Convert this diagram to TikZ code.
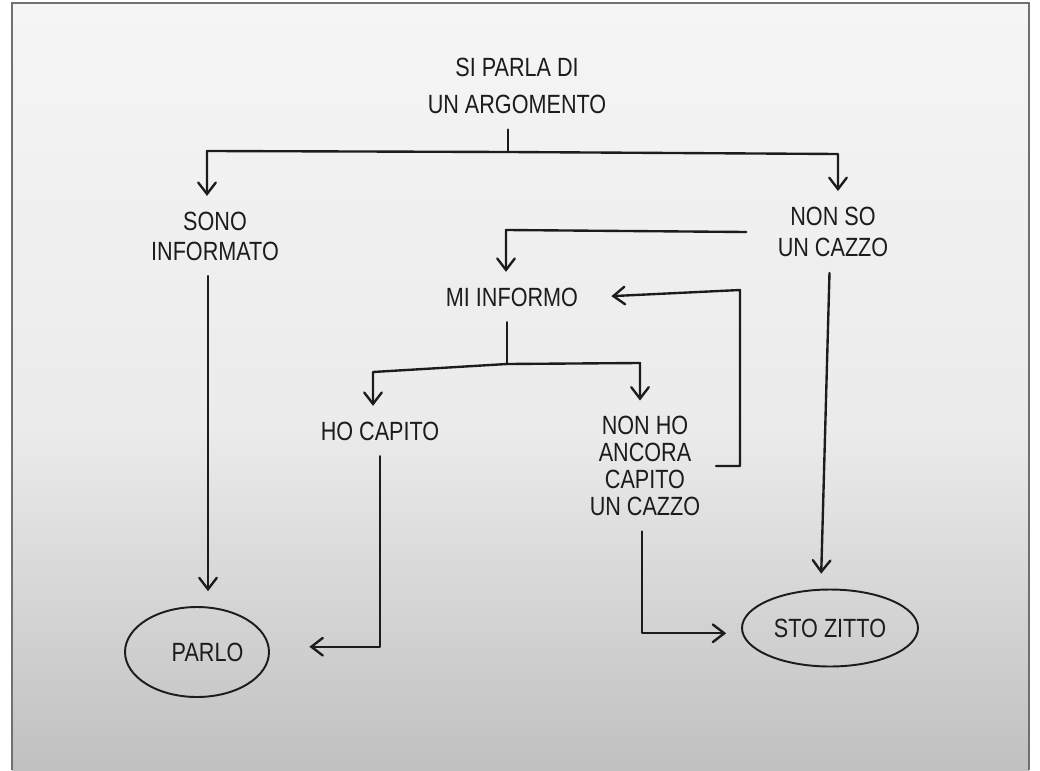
\documentclass[tikz,border=0pt]{standalone}
\usepackage{fontspec}
\newfontfamily\hand{Liberation Sans}[FakeStretch=0.82]
\usetikzlibrary{arrows.meta,shapes.geometric}
\definecolor{inkc}{HTML}{1C1C1C}
\definecolor{bgtop}{HTML}{F5F5F5}
\definecolor{bgmid}{HTML}{EBEBEB}
\definecolor{bgbot}{HTML}{C0C0C0}
\definecolor{framec}{HTML}{707070}
\begin{document}
\begin{tikzpicture}[x=0.02cm,y=-0.02cm,
  ink/.style={draw=inkc, line width=1.35pt, line cap=round, line join=round},
  arr/.style={ink, -{Straight Barb[length=6.5pt,width=10pt,line cap=round]}},
  lbl/.style={font=\hand\fontsize{15}{17}\selectfont, text=inkc, inner sep=0pt, outer sep=9pt, align=center},
  oval/.style={ellipse, draw=inkc, line width=1.1pt, text=inkc, font=\hand\fontsize{15}{17}\selectfont, inner sep=0pt, outer sep=9pt}
]
\useasboundingbox (0,0) rectangle (1040,770);
% paper
\fill[white] (0,0) rectangle (1040,770);
\shade[top color=bgtop, bottom color=bgmid] (12,3) rectangle (1029,431);
\shade[top color=bgmid, bottom color=bgbot] (12,430) rectangle (1029,770);
\draw[framec, line width=1.2pt] (12,770) -- (12,3) -- (1029,3) -- (1029,770);

% nodes
\node[lbl, font=\hand\fontsize{15}{21}\selectfont] (top) at (517,86) {SI PARLA DI\\UN ARGOMENTO};
\node[lbl] (sono) at (215,236) {SONO\\INFORMATO};
\node[lbl, font=\hand\fontsize{15}{18}\selectfont] (nonso) at (833,232) {NON SO\\UN CAZZO};
\node[lbl] (mi) at (512,297) {MI INFORMO};
\node[lbl] (ho) at (380,431) {HO CAPITO};
\node[lbl, font=\hand\fontsize{15}{15.3}\selectfont] (nonho) at (645,466) {NON HO\\ANCORA\\CAPITO\\UN CAZZO};
\node[oval, minimum width=2.88cm, minimum height=1.8cm] (parlo) at (197,652) {\hspace{12pt}PARLO};
\node[oval, minimum width=3.52cm, minimum height=1.54cm] (sto) at (830,628) {STO ZITTO};

% helper coordinates
\coordinate (j1) at (508,152);
\coordinate (l1) at (207,151);
\coordinate (r1) at (838,154);
\coordinate (colA) at (208,400);
\coordinate (j2) at (506,230);
\coordinate (j3) at (507,364);
\coordinate (l3) at (373,372);
\coordinate (r3) at (640,363);
\coordinate (colC) at (380,500);
\coordinate (colD) at (642,560);
\coordinate (fb) at (740,290);

% connectors
\draw[ink] (top.south -| j1) -- (j1);
\draw[arr] (j1) -- (l1) -- (sono.north -| l1);
\draw[arr] (j1) -- (r1) -- (nonso.north -| r1);
\draw[arr] (sono.south -| colA) -- (parlo.north -| colA);
\draw[arr] ([xshift=-2pt]nonso.south) -- ([xshift=-5pt]sto.north);
\draw[arr] ([xshift=-9pt]nonso.west) -- (j2) -- (mi.north -| j2);
\draw[ink] (mi.south -| j3) -- (j3);
\draw[arr] (j3) -- (l3) -- (ho.north -| l3);
\draw[arr] (j3) -- (r3) -- (nonho.north -| r3);
\draw[arr, shorten >=14pt] (ho.south -| colC) |- ([yshift=3pt]parlo.east);
\draw[arr] (nonho.south -| colD) |- ([yshift=-3pt]sto.west);
\draw[arr, shorten >=10pt] (nonho.east) -| (fb) -- (mi.east);
\end{tikzpicture}
\end{document}
